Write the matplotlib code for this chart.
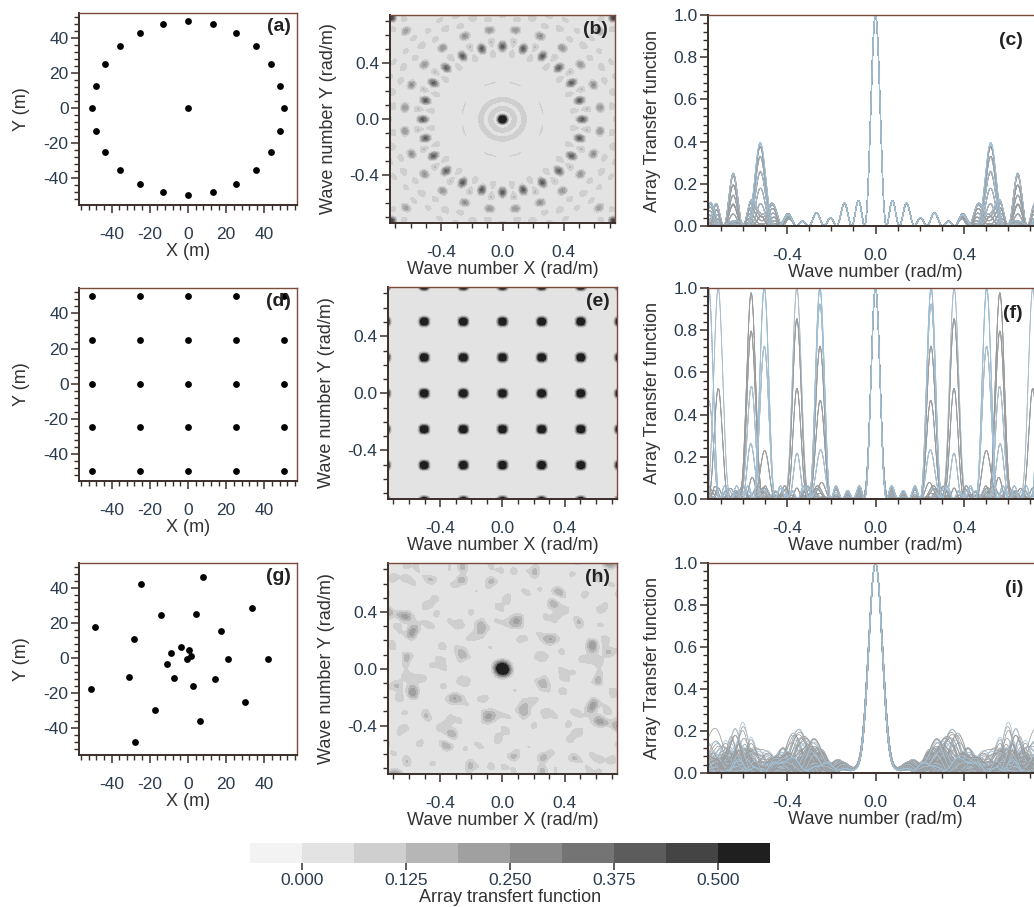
import numpy as np
import matplotlib
matplotlib.use('Agg')
import matplotlib.pyplot as plt
from matplotlib.colors import ListedColormap
from matplotlib.ticker import MultipleLocator, FixedLocator

plt.rcParams['font.family'] = ['Liberation Sans', 'DejaVu Sans']
plt.rcParams['axes.unicode_minus'] = False

# ---------------- data: station coordinates (m) ----------------
circ_x = [0.0, 12.9, 25.0, 35.4, 43.3, 48.3, 50.0, 48.3, 43.3, 35.4, 25.0, 12.9,
          0.0, -12.9, -25.0, -35.4, -43.3, -48.3, -50.0, -48.3, -43.3, -35.4, -25.0, -12.9, 0.0]
circ_y = [50.0, 48.3, 43.3, 35.4, 25.0, 12.9, 0.0, -12.9, -25.0, -35.4, -43.3, -48.3,
          -50.0, -48.3, -43.3, -35.4, -25.0, -12.9, 0.0, 12.9, 25.0, 35.4, 43.3, 48.3, 0.0]

grid_x = [-50, -25, 0, 25, 50] * 5
grid_y = [50] * 5 + [25] * 5 + [0] * 5 + [-25] * 5 + [-50] * 5

rand_x = [-24.5, 7.9, 33.7, -48.7, -14.0, 4.2, 17.3, -28.3, -3.7, -8.7, 0.7, 1.7, -0.3,
          21.0, 41.6, -11.0, -30.6, -7.2, 14.1, 2.6, -50.8, -17.5, 30.0, 6.1, -27.9]
rand_y = [42.7, 46.5, 28.6, 18.1, 24.8, 25.3, 15.4, 10.7, 6.1, 3.2, 4.6, 1.5, -0.4,
          -0.4, -0.4, -3.2, -10.7, -11.6, -11.8, -16.0, -17.9, -29.9, -25.3, -36.0, -47.8]

panel_labels = ['(a)', '(b)', '(c)', '(d)', '(e)', '(f)', '(g)', '(h)', '(i)']
cbar_ticks = [0.0, 0.125, 0.25, 0.375, 0.5]
level_edges = [-0.0625, 0.0, 0.0625, 0.125, 0.1875, 0.25, 0.3125, 0.375, 0.4375, 0.5, 0.5625]
grey_colors = ['#f3f3f3', '#e3e3e3', '#cfcfcf', '#b6b6b6', '#a0a0a0', '#8a8a8a',
               '#747474', '#5c5c5c', '#444444', '#1f1f1f']
azimuths_deg = np.linspace(0, 180, 100, endpoint=False)

W, H = 1034, 907
fig = plt.figure(figsize=(W / 100, H / 100), dpi=100)


def pos(l, t, r, b):
    return [l / W, 1 - b / H, (r - l) / W, (b - t) / H]


TICKC = '#2b3b4e'
LABC = '#333333'
TFS = 12.5
LFS = 13


def style(ax):
    for s in ['left', 'bottom']:
        ax.spines[s].set_color('#3a2e2a')
        ax.spines[s].set_linewidth(1.4)
    for s in ['top', 'right']:
        ax.spines[s].set_color('#7a4a3a')
        ax.spines[s].set_linewidth(1.0)
    ax.tick_params(which='major', direction='out', length=6, width=1.1,
                   color='#3a2e2a', labelcolor=TICKC, labelsize=TFS)
    ax.tick_params(axis='x', which='major', pad=10)
    ax.tick_params(axis='y', which='major', pad=1.5)
    ax.tick_params(which='minor', direction='out', length=3.5, width=1.0, color='#3a2e2a')
    ax.tick_params(top=False, right=False)


def atf(xs, ys, kx, ky):
    xs = np.asarray(xs, float)
    ys = np.asarray(ys, float)
    ph = kx[..., None] * xs + ky[..., None] * ys
    s = np.exp(1j * ph).sum(-1)
    return np.abs(s) ** 2 / len(xs) ** 2


fmt1 = plt.FuncFormatter(lambda v, p: f'{v:.1f}')

arrays = [(circ_x, circ_y), (grid_x, grid_y), (rand_x, rand_y)]
rows_px = [
    dict(a=(79, 13, 297, 205), b=(390, 15, 615, 223), c=(708, 15, 1043, 226)),
    dict(a=(79, 288, 297, 481), b=(388, 287, 617, 499), c=(708, 288, 1043, 499)),
    dict(a=(79, 563, 297, 755), b=(388, 563, 617, 774), c=(708, 563, 1043, 773)),
]

cmap = ListedColormap(grey_colors)
kgrid = np.linspace(-0.76, 0.76, 401)
KX, KY = np.meshgrid(kgrid, kgrid)
kline = np.linspace(-0.76, 0.76, 761)
cs = None

for r, ((xs, ys), px) in enumerate(zip(arrays, rows_px)):
    # station map
    ax = fig.add_axes(pos(*px['a']))
    ax.scatter(xs, ys, s=24, color='black', zorder=3, linewidths=0)
    ax.set_xlim(-57, 57)
    ax.set_ylim(-55.5, 54.5)
    ax.xaxis.set_major_locator(FixedLocator([-40, -20, 0, 20, 40]))
    ax.yaxis.set_major_locator(FixedLocator([-40, -20, 0, 20, 40]))
    ax.xaxis.set_minor_locator(MultipleLocator(4))
    ax.yaxis.set_minor_locator(MultipleLocator(4))
    style(ax)
    ax.set_xlabel('X (m)', fontsize=LFS, color=LABC, labelpad=0.5)
    ax.set_ylabel('Y (m)', fontsize=LFS, color=LABC, labelpad=10)
    ax.text(0.97, 0.93, panel_labels[3 * r], transform=ax.transAxes, ha='right', va='center',
            fontsize=14, fontweight='bold', color='#222222')

    # ATF map
    ax = fig.add_axes(pos(*px['b']))
    Z = np.clip(atf(xs, ys, KX, KY), 0, 0.56)
    cs = ax.contourf(KX, KY, Z, levels=level_edges, cmap=cmap)
    ax.set_xlim(-0.735, 0.735)
    ax.set_ylim(-0.74, 0.745)
    ax.xaxis.set_major_locator(FixedLocator([-0.4, 0.0, 0.4]))
    ax.yaxis.set_major_locator(FixedLocator([-0.4, 0.0, 0.4]))
    ax.xaxis.set_minor_locator(MultipleLocator(0.1))
    ax.yaxis.set_minor_locator(MultipleLocator(0.1))
    ax.xaxis.set_major_formatter(fmt1)
    ax.yaxis.set_major_formatter(fmt1)
    style(ax)
    ax.set_xlabel('Wave number X (rad/m)', fontsize=LFS, color=LABC, labelpad=0.5)
    ax.set_ylabel('Wave number Y (rad/m)', fontsize=LFS, color=LABC, labelpad=9)
    ax.text(0.97, 0.93, panel_labels[3 * r + 1], transform=ax.transAxes, ha='right', va='center',
            fontsize=14, fontweight='bold', color='#222222')

    # profiles
    ax = fig.add_axes(pos(*px['c']))
    for i, az in enumerate(azimuths_deg):
        t = np.deg2rad(az)
        prof = atf(xs, ys, kline * np.cos(t), kline * np.sin(t))
        col = '#a9c3d6' if i % 3 == 0 else '#9b9b9b'
        ax.plot(kline, prof, color=col, lw=0.55)
    prof0 = atf(xs, ys, kline, kline * 0)
    ax.plot(kline, prof0, color='#9cc3de', lw=0.7)
    ax.set_xlim(-0.757, 0.757)
    ax.set_ylim(0, 1.0)
    ax.xaxis.set_major_locator(FixedLocator([-0.4, 0.0, 0.4]))
    ax.xaxis.set_minor_locator(MultipleLocator(0.1))
    ax.yaxis.set_major_locator(MultipleLocator(0.2))
    ax.yaxis.set_minor_locator(MultipleLocator(0.04))
    ax.xaxis.set_major_formatter(fmt1)
    ax.yaxis.set_major_formatter(fmt1)
    style(ax)
    ax.set_xlabel('Wave number (rad/m)', fontsize=LFS, color=LABC, labelpad=0.5)
    ax.set_ylabel('Array Transfer function', fontsize=LFS, color=LABC, labelpad=9)
    ax.text(0.94, 0.88, panel_labels[3 * r + 2], transform=ax.transAxes, ha='right', va='center',
            fontsize=14, fontweight='bold', color='#222222')

# colorbar
cax = fig.add_axes(pos(250, 843, 770, 863))
cb = fig.colorbar(cs, cax=cax, orientation='horizontal', ticks=cbar_ticks)
cb.outline.set_visible(False)
cb.ax.set_xticklabels([f'{v:.3f}' for v in cbar_ticks])
cb.ax.tick_params(length=5, width=1.1, color='#333333', labelcolor=TICKC, labelsize=TFS, pad=2)
fig.text(510 / W, 1 - 898 / H, 'Array transfert function', ha='center', va='center',
         fontsize=LFS, color=LABC)

fig.savefig('out.png', dpi=100)
